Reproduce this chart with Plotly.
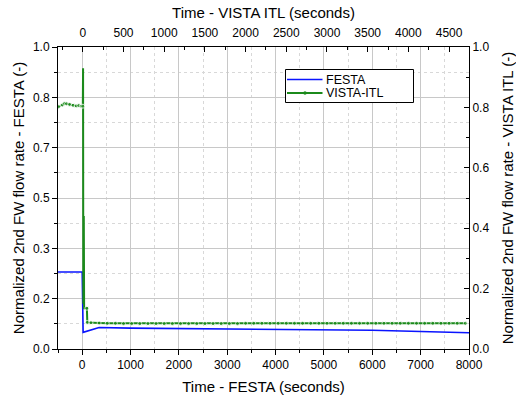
import plotly.graph_objects as go

# FESTA (bottom x axis, left y axis)
festa_t = [-500, 0, 20, 150, 350, 1000, 2000, 3000, 4000, 5000, 6000, 7000, 8000]
festa_v = [0.255, 0.255, 0.055, 0.062, 0.071, 0.069, 0.068, 0.067, 0.065, 0.064, 0.062, 0.058, 0.054]

# VISTA-ITL (top x axis, right y axis)
vista_t = [-300, -250, -225, -200, -163, -120, -82, -50, -20, 0, 3, 6, 12, 16, 50, 55,
           100, 200, 300, 400, 500, 600, 700, 800, 900, 1000, 1100, 1200, 1300, 1400,
           1500, 1600, 1700, 1800, 1900, 2000, 2100, 2200, 2300, 2400, 2500, 2600,
           2700, 2800, 2900, 3000, 3100, 3200, 3300, 3400, 3500, 3600, 3700, 3800,
           3900, 4000, 4100, 4200, 4300, 4400, 4500, 4600, 4700]
vista_v = [0.802, 0.808, 0.813, 0.812, 0.810, 0.807, 0.805, 0.806, 0.804, 0.804, 0.93, 0.15,
           0.44, 0.135, 0.135, 0.088,
           0.087, 0.086, 0.085, 0.085, 0.084, 0.084, 0.084, 0.084, 0.084, 0.084, 0.084,
           0.084, 0.084, 0.084, 0.084, 0.084, 0.084, 0.084, 0.084, 0.085, 0.085, 0.085,
           0.085, 0.085, 0.085, 0.085, 0.085, 0.085, 0.085, 0.085, 0.085, 0.085, 0.085,
           0.085, 0.085, 0.085, 0.085, 0.085, 0.085, 0.085, 0.085, 0.085, 0.085, 0.085,
           0.085, 0.085, 0.085]

series_names = ["FESTA", "VISTA-ITL"]

left_tickvals = [0, 1/6, 2/6, 3/6, 4/6, 5/6, 1]
left_ticktext = ["0.0", "0.2", "0.3", "0.5", "0.7", "0.8", "1.0"]

GREEN = "#1b8a1b"
BLUE = "#0a14ff"
FONT = "Liberation Sans, Arial, sans-serif"
TICKF = 12
TITLEF = 15

marker_sizes = [0 if 0 < t < 50 else 4 for t in vista_t]

fig = go.Figure()
fig.add_trace(go.Scatter(x=festa_t, y=festa_v, mode="lines", name=series_names[0],
                         line=dict(color=BLUE, width=1.6), xaxis="x", yaxis="y"))
fig.add_trace(go.Scatter(x=vista_t, y=vista_v, mode="lines+markers", name=series_names[1],
                         line=dict(color=GREEN, width=2),
                         marker=dict(color=GREEN, size=marker_sizes, symbol="circle"),
                         xaxis="x2", yaxis="y2"))

grid_major = "#c8c8c8"
grid_minor = "#d8d8d8"

# plot area in pixels: x 58..469, y 47..349  (width 411, height 302)
W, H = 516, 396
L, R, T, B = 58, 47, 47, 47
pw, ph = W - L - R, H - T - B

def px(xp):
    return (xp - L) / pw

def py(yp):
    return (H - B - yp) / ph

y1, y2 = 79.5, 93.0
shapes = [
    dict(type="rect", xref="paper", yref="paper", x0=px(285.5), x1=px(413.5),
         y0=py(102.5), y1=py(69.5), line=dict(color="black", width=1), fillcolor="white",
         layer="above"),
    dict(type="line", xref="paper", yref="paper", x0=px(287), x1=px(322.5),
         y0=py(y1), y1=py(y1), line=dict(color=BLUE, width=1.6), layer="above"),
    dict(type="line", xref="paper", yref="paper", x0=px(287), x1=px(322.5),
         y0=py(y2), y1=py(y2), line=dict(color=GREEN, width=2), layer="above"),
    dict(type="circle", xref="paper", yref="paper", x0=px(303.3), x1=px(306.7),
         y0=py(y2 + 1.7), y1=py(y2 - 1.7), line=dict(color=GREEN, width=0), fillcolor=GREEN,
         layer="above"),
]
annotations = [
    dict(text=series_names[0], xref="paper", yref="paper", x=px(325), y=py(y1 + 0.5),
         xanchor="left", yanchor="middle", showarrow=False, font=dict(size=12.5, family=FONT),
         borderpad=0),
    dict(text=series_names[1], xref="paper", yref="paper", x=px(325), y=py(y2 + 0.5),
         xanchor="left", yanchor="middle", showarrow=False, font=dict(size=12.5, family=FONT),
         borderpad=0),
]

fig.update_layout(
    width=W, height=H,
    margin=dict(l=L, r=R, t=T, b=B),
    paper_bgcolor="white", plot_bgcolor="white",
    font=dict(family=FONT, size=TICKF, color="black"),
    showlegend=False,
    shapes=shapes, annotations=annotations,
    xaxis=dict(range=[-500, 8000], tick0=0, dtick=1000, ticks="outside", ticklen=5,
               tickcolor="black", showline=True, linecolor="black", linewidth=1,
               showgrid=True, gridcolor=grid_major, gridwidth=1, zeroline=False,
               automargin=False,
               minor=dict(dtick=500, tick0=0, ticks="outside", ticklen=3, tickcolor="black",
                          showgrid=True, gridcolor=grid_minor, griddash="dot", gridwidth=1),
               title=dict(text="Time - FESTA (seconds)", font=dict(size=TITLEF), standoff=10),
               tickfont=dict(size=TICKF)),
    xaxis2=dict(range=[-305, 4745], tick0=0, dtick=500, overlaying="x", side="top",
                anchor="y", ticks="inside", ticklen=5, tickcolor="black",
                showline=True, linecolor="black", linewidth=1, showgrid=False, zeroline=False,
                automargin=False, ticklabelstandoff=4,
                minor=dict(dtick=250, tick0=0, ticks="inside", ticklen=3, tickcolor="black",
                           showgrid=False),
                title=dict(text="Time - VISTA ITL (seconds)", font=dict(size=TITLEF), standoff=3),
                tickfont=dict(size=TICKF)),
    yaxis=dict(range=[0, 1], tickmode="array", tickvals=left_tickvals, ticktext=left_ticktext,
               ticks="outside", ticklen=5, tickcolor="black", showline=True, linecolor="black",
               linewidth=1, showgrid=True, gridcolor=grid_major, gridwidth=1, zeroline=False,
               automargin=False,
               minor=dict(tickmode="array", tickvals=[1/12, 3/12, 5/12, 7/12, 9/12, 11/12],
                          ticks="outside", ticklen=3, tickcolor="black",
                          showgrid=True, gridcolor=grid_minor, griddash="dot", gridwidth=1),
               title=dict(text="Normalized 2nd FW flow rate - FESTA (-)", font=dict(size=TITLEF),
                          standoff=4),
               tickfont=dict(size=TICKF)),
    yaxis2=dict(range=[0, 1], dtick=0.2, tickformat=".1f", overlaying="y", side="right",
                anchor="x2", ticks="inside", ticklen=5, tickcolor="black", showline=True,
                linecolor="black", linewidth=1, showgrid=False, zeroline=False,
                automargin=False,
                minor=dict(dtick=0.1, ticks="inside", ticklen=3, tickcolor="black",
                           showgrid=False),
                title=dict(text="Normalized 2nd FW flow rate - VISTA ITL (-)",
                           font=dict(size=TITLEF), standoff=14),
                tickfont=dict(size=TICKF)),
)

fig.write_html("out.html", config={"displayModeBar": False},
               post_script="document.body.style.margin='0px';")
